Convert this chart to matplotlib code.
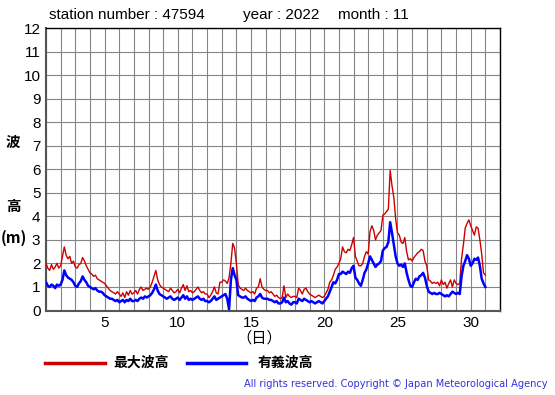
import numpy as np
import matplotlib
matplotlib.use("Agg")
import matplotlib.pyplot as plt

# 3-hourly readings (day + k/8), days 1..30, plus final reading at day 31.0
red_max = [
    2.0, 1.8, 1.7, 1.95, 1.75, 1.85, 2.0, 1.8,      # 1
    1.9, 2.3, 2.7, 2.35, 2.2, 2.3, 2.0, 2.1,        # 2
    1.85, 1.8, 1.95, 2.0, 2.25, 2.1, 1.9, 1.75,     # 3
    1.6, 1.55, 1.45, 1.5, 1.35, 1.3, 1.25, 1.2,     # 4
    1.15, 1.05, 0.95, 0.85, 0.8, 0.75, 0.7, 0.8,    # 5
    0.7, 0.6, 0.75, 0.55, 0.8, 0.65, 0.85, 0.7,     # 6
    0.75, 0.85, 0.7, 0.9, 1.0, 0.85, 0.9, 0.95,     # 7
    0.9, 1.0, 1.2, 1.45, 1.7, 1.3, 1.1, 1.0,        # 8
    0.95, 0.9, 0.85, 0.8, 0.95, 0.85, 0.75, 0.8,    # 9
    0.9, 0.75, 0.95, 1.1, 0.85, 1.05, 0.8, 0.85,    # 10
    0.75, 0.8, 0.9, 1.0, 0.85, 0.75, 0.8, 0.7,      # 11
    0.7, 0.55, 0.65, 0.8, 1.0, 0.75, 0.7, 1.2,      # 12
    1.2, 1.3, 1.25, 1.15, 1.4, 2.0, 2.85, 2.65,     # 13
    2.0, 1.1, 0.95, 0.9, 0.85, 0.95, 0.85, 0.8,     # 14
    0.75, 0.8, 0.7, 0.95, 1.0, 1.35, 1.0, 0.9,      # 15
    0.85, 0.85, 0.75, 0.8, 0.7, 0.6, 0.65, 0.55,    # 16
    0.5, 0.55, 1.05, 0.55, 0.7, 0.6, 0.55, 0.6,     # 17
    0.6, 0.55, 0.95, 0.85, 0.7, 0.9, 0.95, 0.8,     # 18
    0.7, 0.65, 0.6, 0.55, 0.6, 0.65, 0.6, 0.55,     # 19
    0.6, 0.75, 0.9, 1.2, 1.3, 1.5, 1.75, 1.85,      # 20
    2.0, 2.2, 2.7, 2.5, 2.45, 2.6, 2.55, 2.8,       # 21
    3.1, 2.3, 2.1, 1.9, 1.9, 2.0, 2.3, 2.5,         # 22
    2.4, 3.35, 3.6, 3.4, 3.0, 3.2, 3.3, 3.4,        # 23
    4.05, 4.1, 4.2, 4.3, 5.95, 5.3, 4.8, 3.9,       # 24
    3.3, 3.2, 2.9, 2.85, 3.1, 2.5, 2.15, 2.2,       # 25
    2.1, 2.25, 2.35, 2.45, 2.5, 2.6, 2.55, 2.1,     # 26
    1.9, 1.3, 1.25, 1.15, 1.2, 1.15, 1.2, 1.05,     # 27
    1.3, 1.1, 1.2, 0.95, 1.15, 1.3, 1.0, 1.3,       # 28
    1.15, 1.1, 1.15, 2.2, 2.8, 3.5, 3.7, 3.85,      # 29
    3.6, 3.4, 3.2, 3.55, 3.5, 3.0, 2.4, 1.6,        # 30
    1.5,                                            # 31.0
]

blue_sig = [
    1.2, 1.05, 1.0, 1.1, 1.05, 0.95, 1.1, 1.05,     # 1
    1.1, 1.3, 1.7, 1.5, 1.4, 1.35, 1.3, 1.2,        # 2
    1.05, 1.0, 1.15, 1.25, 1.45, 1.3, 1.2, 1.05,    # 3
    1.0, 0.95, 0.9, 0.95, 0.85, 0.8, 0.8, 0.75,     # 4
    0.65, 0.6, 0.55, 0.5, 0.5, 0.45, 0.4, 0.45,     # 5
    0.35, 0.4, 0.45, 0.35, 0.45, 0.4, 0.5, 0.4,     # 6
    0.4, 0.45, 0.4, 0.5, 0.55, 0.5, 0.6, 0.55,      # 7
    0.6, 0.65, 0.75, 0.9, 1.1, 0.85, 0.7, 0.65,     # 8
    0.6, 0.55, 0.5, 0.55, 0.6, 0.5, 0.45, 0.5,      # 9
    0.55, 0.45, 0.55, 0.65, 0.5, 0.6, 0.45, 0.5,    # 10
    0.45, 0.5, 0.55, 0.6, 0.5, 0.45, 0.5, 0.4,      # 11
    0.4, 0.35, 0.4, 0.5, 0.6, 0.45, 0.5, 0.55,      # 12
    0.6, 0.65, 0.7, 0.5, 0.05, 1.3, 1.8, 1.5,       # 13
    1.3, 0.65, 0.6, 0.55, 0.55, 0.6, 0.5, 0.45,     # 14
    0.4, 0.45, 0.4, 0.55, 0.6, 0.7, 0.55, 0.5,      # 15
    0.5, 0.5, 0.45, 0.45, 0.4, 0.35, 0.4, 0.3,      # 16
    0.3, 0.35, 0.55, 0.35, 0.4, 0.3, 0.25, 0.35,    # 17
    0.35, 0.3, 0.5, 0.45, 0.4, 0.5, 0.45, 0.4,      # 18
    0.35, 0.4, 0.35, 0.3, 0.35, 0.4, 0.35, 0.3,     # 19
    0.4, 0.5, 0.6, 0.8, 1.0, 1.2, 1.15, 1.3,        # 20
    1.55, 1.55, 1.65, 1.6, 1.55, 1.65, 1.6, 1.8,    # 21
    1.9, 1.4, 1.3, 1.15, 1.05, 1.3, 1.6, 1.75,      # 22
    2.0, 2.3, 2.15, 2.0, 1.85, 1.95, 2.0, 2.1,      # 23
    2.55, 2.65, 2.7, 2.9, 3.75, 3.3, 2.8, 2.3,      # 24
    2.0, 1.9, 1.95, 1.85, 2.0, 1.6, 1.3, 1.05,      # 25
    1.0, 1.2, 1.35, 1.3, 1.45, 1.5, 1.6, 1.4,       # 26
    1.05, 0.8, 0.75, 0.7, 0.75, 0.7, 0.7, 0.75,     # 27
    0.7, 0.65, 0.6, 0.65, 0.6, 0.7, 0.8, 0.75,      # 28
    0.7, 0.75, 0.7, 1.45, 1.9, 2.1, 2.35, 2.2,      # 29
    1.9, 2.0, 2.2, 2.15, 2.25, 1.9, 1.35, 1.15,     # 30
    1.0,                                            # 31.0
]

days = np.arange(len(red_max)) / 8.0 + 1.0

x_ticks = [5, 10, 15, 20, 25, 30]
y_ticks = list(range(0, 13))

fig = plt.figure(figsize=(5.55, 3.95), dpi=100)
ax = fig.add_axes([46/555, 1 - 310.5/395, (500-46)/555, (310.5-28)/395])

ax.set_xlim(1, 32)
ax.set_ylim(0, 12)
for gx in range(1, 33):
    ax.axvline(gx, color="#858585", lw=0.8, zorder=1)
for gy in y_ticks:
    ax.axhline(gy, color="#858585", lw=0.8, zorder=1)

ax.plot(days, red_max, color="#cc0000", lw=1.0, zorder=3)
ax.plot(days, blue_sig, color="#0000ff", lw=1.8, zorder=4)

ax.set_xticks(x_ticks)
ax.set_xticklabels([str(t) for t in x_ticks])
ax.set_yticks(y_ticks)
ax.set_yticklabels([str(t) for t in y_ticks])
ax.tick_params(length=0, labelsize=11, pad=4)
for lab in ax.get_xticklabels() + ax.get_yticklabels():
    lab.set_family("Liberation Sans")
for s in ax.spines.values():
    s.set_color("black")
    s.set_linewidth(1.0)
ax.spines["left"].set_color("#555555")
ax.spines["left"].set_linewidth(1.5)
ax.spines["bottom"].set_color("#555555")
ax.spines["bottom"].set_linewidth(1.5)

latin = "Liberation Sans"
cjk = ["Noto Sans CJK JP", "DejaVu Sans"]

fig.text(49/555, 1 - 15/395, "station number : 47594", family=latin, fontsize=11, va="center", ha="left")
fig.text(243/555, 1 - 15/395, "year : 2022", family=latin, fontsize=11, va="center", ha="left")
fig.text(338/555, 1 - 15/395, "month : 11", family=latin, fontsize=11, va="center", ha="left")

fig.text(13/555, 1 - 142/395, "波", family=cjk, fontsize=10.5, fontweight="bold", ha="center", va="center")
fig.text(13/555, 1 - 206/395, "高", family=cjk, fontsize=10.5, fontweight="bold", ha="center", va="center")
fig.text(14/555, 1 - 238/395, "(m)", family=cjk, fontsize=11, fontweight="bold", ha="center", va="center")

fig.text(259/555, 1 - 338/395, "（日）", family=cjk, fontsize=11, ha="center", va="center")

fig.add_artist(plt.Line2D([45/555, 105/555], [1 - 363/395]*2, color="#cc0000", lw=2.5, transform=fig.transFigure))
fig.text(113/555, 1 - 363/395, "最大波高", family=cjk, fontsize=10, fontweight="bold", ha="left", va="center")
fig.add_artist(plt.Line2D([187/555, 246/555], [1 - 363/395]*2, color="#0000ff", lw=2.5, transform=fig.transFigure))
fig.text(258/555, 1 - 363/395, "有義波高", family=cjk, fontsize=10, fontweight="bold", ha="left", va="center")

fig.text(548/555, 1 - 384/395, "All rights reserved. Copyright © Japan Meteorological Agency",
         family="DejaVu Sans", fontsize=7.1, color="#3333dd", ha="right", va="center")

fig.savefig("out.png", dpi=100)
